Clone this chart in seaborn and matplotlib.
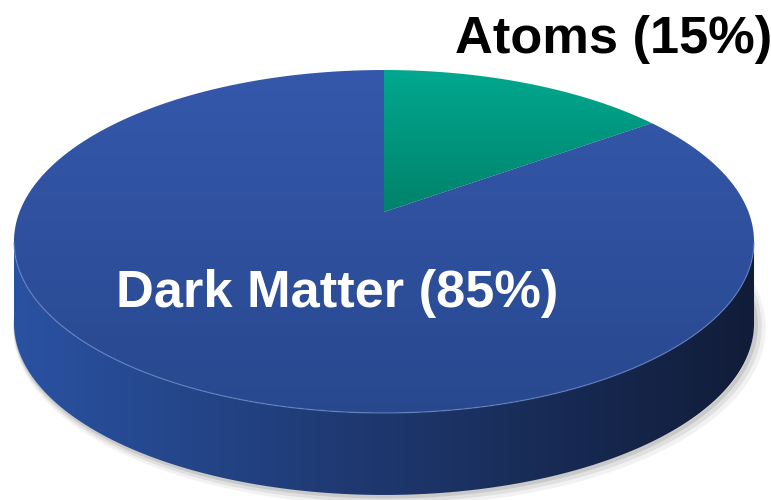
import numpy as np
import matplotlib
matplotlib.use("Agg")
import matplotlib.pyplot as plt
from matplotlib.patches import Polygon
from matplotlib.colors import LinearSegmentedColormap
import seaborn as sns

sns.set_theme(style="white")
plt.rcParams["font.family"] = ["Liberation Sans", "DejaVu Sans"]

# Composition shares
categories = ["Atoms", "Dark Matter"]
shares = [15, 85]
labels = ["Atoms (15%)", "Dark Matter (85%)"]

W, H = 771, 500
fig = plt.figure(figsize=(W / 100, H / 100), dpi=100)
ax = fig.add_axes([0, 0, 1, 1])
ax.set_xlim(0, W)
ax.set_ylim(H, 0)
ax.axis("off")

# Perspective disc: centre, scale and foreshortening
cx, cy = 384.0, 212.0
A, B, k = 364.5, 166.4, 0.172
depth = 82.0


def project(theta, r=1.0):
    # theta measured clockwise from 12 o'clock
    x = r * np.sin(theta)
    y = r * np.cos(theta)
    w = 1 + k * y
    return cx + A * x / w, cy - B * y / w


def gradient_fill(poly, c0, c1, horizontal=False, zorder=1, extent=None):
    cmap = LinearSegmentedColormap.from_list("g", [c0, c1])
    if horizontal:
        grad = np.linspace(0, 1, 256)[None, :]
    else:
        grad = np.linspace(0, 1, 256)[:, None]
    xs, ys = poly[:, 0], poly[:, 1]
    ext = extent or (xs.min(), xs.max(), ys.max(), ys.min())
    im = ax.imshow(grad, cmap=cmap, extent=ext, aspect="auto",
                   origin="upper", zorder=zorder, interpolation="bilinear")
    patch = Polygon(poly, closed=True, facecolor="none", edgecolor="none",
                    zorder=zorder)
    ax.add_patch(patch)
    im.set_clip_path(patch)


# Drop shadow under the disc
for off, al in [(9, 0.05), (6, 0.07), (3, 0.10)]:
    t = np.linspace(-np.pi / 2 - 0.2, np.pi / 2 + 0.2, 200)
    xs, ys = project(t + np.pi)
    ax.plot(np.asarray(xs) + off * 0.6, np.asarray(ys) + depth + off * 0.5,
            color="black", alpha=al, lw=off, zorder=0,
            solid_capstyle="round")

# Cylinder side (front half of the rim)
fracs = np.array(shares, dtype=float) / sum(shares)
t_side = np.linspace(0, 2 * np.pi, 720)
sx, sy = project(t_side)
lo = np.argmin(sx)
hi = np.argmax(sx)
order = np.arange(hi, lo + 1) if hi < lo else np.arange(lo, hi + 1)
fx, fy = sx[order], sy[order]
side = np.vstack([np.column_stack([fx, fy]),
                  np.column_stack([fx[::-1], fy[::-1] + depth])])
gradient_fill(side, "#2A52A2", "#111C38", horizontal=True, zorder=1)

# Top face wedges
bounds = np.concatenate([[0], np.cumsum(fracs)]) * 2 * np.pi
wedge_colors = {
    "Atoms": ("#00A88F", "#00826B"),
    "Dark Matter": ("#3558AC", "#28488E"),
}
for cat, t0, t1 in zip(categories, bounds[:-1], bounds[1:]):
    t = np.linspace(t0, t1, 400)
    px, py = project(t)
    poly = np.vstack([[cx, cy], np.column_stack([px, py]), [cx, cy]])
    c0, c1 = wedge_colors[cat]
    if cat == "Atoms":
        gradient_fill(poly, c0, c1, zorder=2)
    else:
        # shade the large wedge over the full disc height
        gradient_fill(poly, c0, c1, zorder=2,
                      extent=(px.min() - 2, px.max() + 2, 415, 68))

# Soft highlight along the front rim edge
ax.plot(fx, fy, color="#6F8FD0", lw=1.0, alpha=0.55, zorder=3)

# Labels
ax.text(455, 53, labels[0], fontsize=37.7, fontweight="bold", color="black",
        ha="left", va="baseline", zorder=5)
ax.text(116, 307, labels[1], fontsize=37.7, fontweight="bold", color="white",
        ha="left", va="baseline", zorder=5)

fig.savefig("out.png", dpi=100)
